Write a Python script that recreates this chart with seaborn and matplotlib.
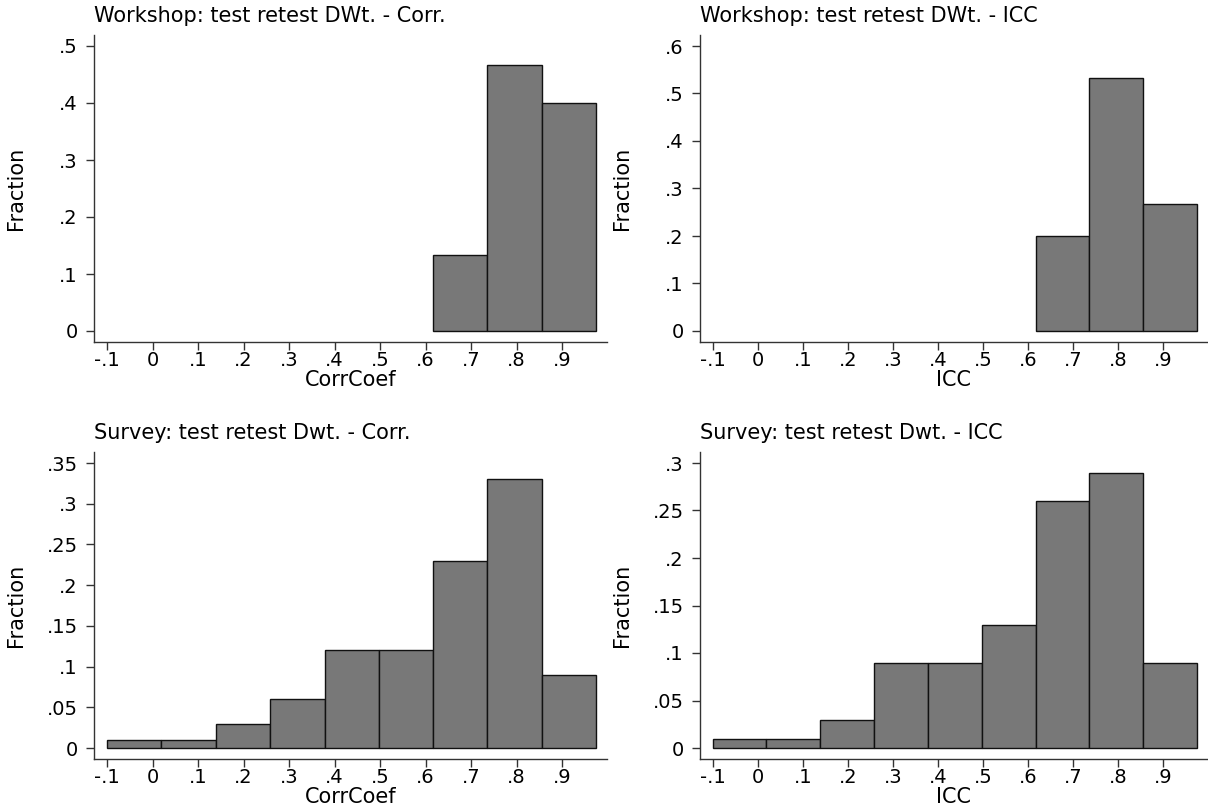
import matplotlib
matplotlib.use("Agg")
import matplotlib.pyplot as plt
import seaborn as sns
import numpy as np
import pandas as pd

# ---------------- data ----------------
BIN_EDGES = [-0.100, 0.019, 0.139, 0.258, 0.378, 0.497, 0.617, 0.736, 0.856, 0.975]

TITLES = ["Workshop: test retest DWt. - Corr.",
          "Workshop: test retest DWt. - ICC",
          "Survey: test retest Dwt. - Corr.",
          "Survey: test retest Dwt. - ICC"]
XLABELS = ["CorrCoef", "ICC", "CorrCoef", "ICC"]
YLABEL = "Fraction"

WS_CORR = [0, 0, 0, 0, 0, 0, 0.1333, 0.4667, 0.4000]
WS_ICC = [0, 0, 0, 0, 0, 0, 0.2000, 0.5333, 0.2667]
SV_CORR = [0.01, 0.01, 0.03, 0.06, 0.12, 0.12, 0.23, 0.33, 0.09]
SV_ICC = [0.01, 0.01, 0.03, 0.09, 0.09, 0.13, 0.26, 0.29, 0.09]

X_TICKS = [-0.1, 0.0, 0.1, 0.2, 0.3, 0.4, 0.5, 0.6, 0.7, 0.8, 0.9]
X_TICKLABELS = ["-.1", "0", ".1", ".2", ".3", ".4", ".5", ".6", ".7", ".8", ".9"]

Y_TICKS_WS_CORR = [0, 0.1, 0.2, 0.3, 0.4, 0.5]
Y_LABELS_WS_CORR = ["0", ".1", ".2", ".3", ".4", ".5"]
Y_TICKS_WS_ICC = [0, 0.1, 0.2, 0.3, 0.4, 0.5, 0.6]
Y_LABELS_WS_ICC = ["0", ".1", ".2", ".3", ".4", ".5", ".6"]
Y_TICKS_SV_CORR = [0, 0.05, 0.1, 0.15, 0.2, 0.25, 0.3, 0.35]
Y_LABELS_SV_CORR = ["0", ".05", ".1", ".15", ".2", ".25", ".3", ".35"]
Y_TICKS_SV_ICC = [0, 0.05, 0.1, 0.15, 0.2, 0.25, 0.3]
Y_LABELS_SV_ICC = ["0", ".05", ".1", ".15", ".2", ".25", ".3"]

# ---------------- style ----------------
sns.set_theme(style="white")
plt.rcParams["font.family"] = ["DejaVu Sans"]
FS_TICK = 14
FS_LABEL = 15
FS_TITLE = 15
BAR_COLOR = "#787878"
AX_COLOR = "#333333"

W, H = 1208, 805
fig = plt.figure(figsize=(W / 100, H / 100), dpi=100)
fig.patch.set_facecolor("white")

# panel geometry in pixels: (left spine x, width, top y, height)
panels = [
    (94, 513, 35, 307),
    (700, 508, 35, 307),
    (94, 513, 452, 307),
    (700, 508, 452, 307),
]
series = [WS_CORR, WS_ICC, SV_CORR, SV_ICC]
yticks = [Y_TICKS_WS_CORR, Y_TICKS_WS_ICC, Y_TICKS_SV_CORR, Y_TICKS_SV_ICC]
ylabels = [Y_LABELS_WS_CORR, Y_LABELS_WS_ICC, Y_LABELS_SV_CORR, Y_LABELS_SV_ICC]

MARGIN_PX = 11.0
SPAN_PX = 285.0
XLEFT = -0.1286

for i, (px, pw, py, ph) in enumerate(panels):
    ax = fig.add_axes([px / W, 1 - (py + ph) / H, pw / W, ph / H])
    vals = series[i]
    first = next(k for k, v in enumerate(vals) if v > 0)
    centers = [(BIN_EDGES[k] + BIN_EDGES[k + 1]) / 2 for k in range(first, len(vals))]
    df = pd.DataFrame({"x": centers, "w": vals[first:]})
    sns.histplot(data=df, x="x", weights="w", bins=BIN_EDGES[first:], stat="count",
                 color=BAR_COLOR, edgecolor="#111111", linewidth=1.0, alpha=1.0,
                 ax=ax)

    ymax = yticks[i][-1]
    ax.set_ylim(-ymax * MARGIN_PX / SPAN_PX, ymax * (1 + MARGIN_PX / SPAN_PX))
    xscale = 455.0 if pw == 513 else 450.0
    ax.set_xlim(XLEFT, XLEFT + pw / xscale)

    ax.set_xticks(X_TICKS)
    ax.set_xticklabels(X_TICKLABELS)
    ax.set_yticks(yticks[i])
    ax.set_yticklabels(ylabels[i])

    for s in ["top", "right"]:
        ax.spines[s].set_visible(False)
    for s in ["left", "bottom"]:
        ax.spines[s].set_color(AX_COLOR)
        ax.spines[s].set_linewidth(1.0)

    ax.tick_params(axis="both", direction="out", length=5.8, width=1.0,
                   color=AX_COLOR, labelsize=FS_TICK, labelcolor="black")
    ax.tick_params(axis="y", pad=6.0, left=True)
    ax.tick_params(axis="x", pad=0.5, bottom=True)

    ax.set_xlabel(XLABELS[i], fontsize=FS_LABEL, color="black", labelpad=0.3)
    ax.set_ylabel(YLABEL, fontsize=FS_LABEL, color="black")
    ax.yaxis.set_label_coords(-68.0 / pw, 0.5)
    ax.set_title(TITLES[i], loc="left", fontsize=FS_TITLE, color="black", pad=9.5)
    ax.grid(False)
    ax.set_facecolor("white")

fig.savefig("out.png", dpi=100, facecolor="white")
